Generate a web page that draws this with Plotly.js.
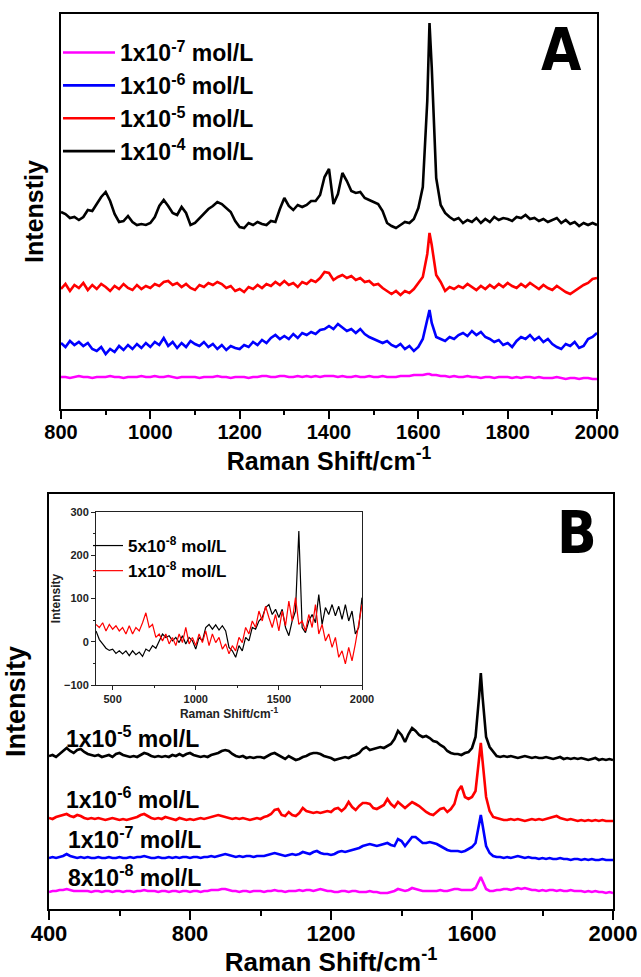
<!DOCTYPE html>
<html>
<head>
<meta charset="utf-8">
<script src="https://cdn.plot.ly/plotly-3.0.1.min.js"></script>
<style>html,body{margin:0;padding:0;background:#fff;}#chart{width:641px;height:977px;}</style>
</head>
<body>
<div id="chart"></div>
<script>
// ---------- Panel A data (Raman shift, cm-1) ----------
const shiftA = [
 800,810,820,830,840,850,860,870,880,890,
 900,910,920,930,940,950,960,970,980,990,
 1000,1010,1020,1030,1040,1050,1060,1070,1080,1090,
 1100,1110,1120,1130,1140,1150,1160,1170,1180,1190,
 1200,1210,1220,1230,1240,1250,1260,1270,1280,1290,
 1300,1310,1320,1330,1340,1350,1360,1370,1380,1390,
 1400,1410,1420,1430,1440,1450,1460,1470,1480,1490,
 1500,1510,1520,1530,1540,1550,1560,1570,1580,1590,
 1600,1610,1620,1625,1630,1640,1650,1660,1670,1680,1690,
 1700,1710,1720,1730,1740,1750,1760,1770,1780,1790,
 1800,1810,1820,1830,1840,1850,1860,1870,1880,1890,
 1900,1910,1920,1930,1940,1950,1960,1970,1980,1990,
 2000];
const A_1e4 = [
 197,195,191,192,189,192,199,198,205,212,
 217,208,195,187,188,193,187,184,185,184,
 186,192,203,209,203,196,194,202,196,184,
 186,191,196,200,203,207,205,201,197,188,
 182,181,186,184,187,185,184,188,187,200,
 211,203,199,204,202,204,208,208,214,232,
 240,205,215,236,228,218,216,217,211,209,
 207,205,198,186,183,181,184,187,186,190,
 201,222,308,386,342,231,204,196,192,189,191,
 186,189,187,191,186,190,187,192,189,191,
 190,188,192,191,194,190,191,188,190,187,
 189,191,186,189,185,187,183,186,184,186,
 184];
const A_1e5 = [
 120,125,118,124,121,126,119,124,120,125,
 122,118,123,120,125,121,119,124,120,123,
 121,125,123,127,128,124,126,122,125,121,
 119,124,122,126,124,127,125,121,123,118,
 120,117,122,120,124,121,125,123,127,124,
 128,124,126,122,127,125,129,127,131,137,
 136,129,132,134,131,133,129,131,127,128,
 124,125,121,118,115,118,114,118,116,120,
 126,132,155,176,164,134,127,118,122,120,123,
 121,125,122,119,123,120,124,121,125,122,
 126,123,121,125,122,126,123,120,124,121,
 119,123,120,117,115,118,121,124,126,130,
 131];
const A_1e6 = [
 66,62,68,64,67,63,66,60,58,62,
 55,60,57,63,59,64,60,65,61,66,
 62,67,64,71,63,67,61,66,62,68,
 65,63,67,62,65,60,64,59,63,61,
 60,64,62,67,64,69,66,71,74,70,
 73,70,75,71,76,74,77,75,79,80,
 83,80,85,81,78,80,76,80,75,72,
 70,68,66,68,64,62,65,60,63,58,
 62,70,88,99,86,72,70,68,72,70,74,
 76,73,78,74,77,72,70,67,69,64,
 66,62,68,72,70,74,69,72,67,70,
 65,62,60,65,63,67,61,63,70,72,
 76];
const A_1e7 = [
 32,32,31,32,33,32,32,31,32,32,
 32,33,32,32,31,32,32,32,33,32,
 32,33,32,32,33,32,31,32,32,32,
 32,31,32,32,32,33,32,32,31,32,
 32,32,31,32,32,33,33,32,32,33,
 33,32,32,33,32,33,32,33,32,33,
 33,33,32,33,32,32,33,32,32,33,
 32,32,33,32,32,32,33,33,33,34,
 34,34,35,35,34,34,33,33,32,33,32,
 32,33,32,32,31,32,32,31,32,32,
 32,31,32,31,32,32,31,32,31,31,
 31,32,31,30,31,31,30,31,31,30,
 30];
const namesA = ['1x10<sup>-7</sup> mol/L','1x10<sup>-6</sup> mol/L','1x10<sup>-5</sup> mol/L','1x10<sup>-4</sup> mol/L'];

// ---------- Panel B data ----------
const shiftB = [
 400,410,420,430,440,450,460,470,480,490,
 500,510,520,530,540,550,560,570,580,590,
 600,610,620,630,640,650,660,670,680,690,
 700,710,720,730,740,750,760,770,780,790,
 800,810,820,830,840,850,860,870,880,890,
 900,910,920,930,940,950,960,970,980,990,
 1000,1010,1020,1030,1040,1050,1060,1070,1080,1090,
 1100,1110,1120,1130,1140,1150,1160,1170,1180,1190,
 1200,1210,1220,1230,1240,1250,1260,1270,1280,1290,
 1300,1310,1320,1330,1340,1350,1360,1370,1380,1390,
 1400,1410,1420,1430,1440,1450,1460,1470,1480,1490,
 1500,1510,1520,1530,1540,1550,1560,1570,1580,1590,
 1600,1610,1620,1625,1630,1640,1650,1660,1670,1680,1690,
 1700,1710,1720,1730,1740,1750,1760,1770,1780,1790,
 1800,1810,1820,1830,1840,1850,1860,1870,1880,1890,
 1900,1910,1920,1930,1940,1950,1960,1970,1980,1990,
 2000];
const B_1e5 = [
 153,154,152,155,158,161,158,156,159,160,
 157,155,154,153,154,152,153,154,152,155,
 156,154,153,152,153,152,154,156,155,153,
 152,153,152,153,152,154,153,155,153,155,
 156,154,153,152,153,152,154,155,156,158,
 159,158,155,153,152,153,151,152,151,152,
 152,151,153,155,156,154,152,150,153,151,
 149,150,152,153,155,156,156,155,153,152,
 151,149,150,151,152,151,153,154,156,160,
 162,159,160,161,162,161,163,165,170,178,
 174,167,175,181,178,174,172,173,171,168,
 167,164,162,158,156,155,155,154,156,157,
 161,172,212,236,212,172,162,157,153,152,153,
 152,153,152,151,152,153,152,151,152,151,
 151,152,151,150,151,152,150,151,150,151,
 150,151,150,149,150,151,149,150,149,150,
 149];
const B_1e6 = [
 91,90,92,93,94,95,93,92,94,93,
 91,90,91,90,91,90,89,90,91,90,
 89,90,89,90,91,92,94,95,93,91,
 90,91,90,92,91,90,89,91,90,89,
 90,89,90,91,90,91,92,93,94,93,
 92,91,90,91,90,91,90,89,90,91,
 90,92,93,95,99,100,94,93,97,94,
 93,96,101,98,97,96,97,96,97,98,
 97,100,101,98,101,107,102,99,103,106,
 106,105,101,100,102,104,110,105,102,107,
 104,101,104,107,105,103,100,97,95,94,
 97,100,101,97,100,105,118,123,112,110,
 112,118,150,166,148,112,98,92,91,90,89,
 89,90,89,90,89,88,89,90,89,90,
 89,90,91,92,93,91,90,89,90,89,
 88,89,88,89,88,89,88,89,88,88,
 88];
const B_1e7 = [
 51,52,51,52,53,55,53,52,51,52,
 51,52,51,51,52,51,51,52,51,51,
 52,51,51,52,51,52,52,53,52,51,
 51,52,51,51,52,51,52,51,52,52,
 51,52,52,51,52,52,53,52,53,54,
 55,54,53,52,53,52,53,53,52,53,
 53,53,54,55,56,55,54,53,54,55,
 54,55,57,56,55,57,58,56,55,55,
 54,55,57,58,57,58,59,60,61,63,
 64,65,64,63,64,65,66,64,63,70,
 68,63,67,72,72,69,66,66,67,66,
 65,63,61,59,58,58,58,57,58,60,
 62,66,86,94,84,63,56,53,52,52,51,
 52,51,52,53,52,51,52,51,51,50,
 51,50,51,50,50,51,50,50,49,50,
 50,49,50,49,50,49,49,50,49,49,
 49];
const B_8e8 = [
 17,18,18,19,19,20,19,18,18,18,
 18,18,17,18,18,17,18,18,17,18,
 18,17,18,18,17,18,18,19,18,18,
 18,17,18,18,17,18,18,17,18,18,
 17,18,18,17,18,18,19,19,19,20,
 20,19,18,18,17,18,18,17,18,18,
 18,17,18,18,19,18,18,17,18,18,
 18,19,18,19,19,18,19,20,19,18,
 18,17,17,18,18,17,18,18,17,17,
 17,18,17,17,16,16,16,17,18,20,
 19,18,19,21,20,19,18,18,18,18,
 18,19,18,18,19,20,20,19,19,19,
 19,21,28,32,28,20,18,18,19,19,20,
 20,19,20,21,20,21,20,19,19,18,
 19,18,19,19,18,19,18,18,19,18,
 18,18,17,18,17,18,17,17,16,17,
 16];
const labelsB = ['1x10<sup>-5</sup> mol/L','1x10<sup>-6</sup> mol/L','1x10<sup>-7</sup> mol/L','8x10<sup>-8</sup> mol/L'];

// ---------- Inset data ----------
const shiftIn = [
 400,420,440,460,480,500,520,540,560,580,
 600,620,640,660,680,700,720,740,760,780,
 800,820,840,860,880,900,920,940,960,980,
 1000,1020,1040,1060,1080,1100,1120,1140,1160,1180,
 1200,1220,1240,1260,1280,1300,1320,1340,1360,1380,
 1400,1420,1440,1460,1480,1500,1520,1540,1560,1580,
 1600,1620,1640,1660,1680,1700,1720,1740,1760,1780,
 1800,1820,1840,1860,1880,1900,1920,1940,1960,1980,
 2000];
const In_5e8 = [
 25,5,-5,-15,-20,-17,-27,-21,-28,-21,
 -32,-21,-30,-24,-34,-17,-22,-9,-15,2,
 18,10,14,2,10,-2,14,-5,10,2,
 -17,10,2,33,40,29,39,27,37,25,
 -13,-21,-36,-9,-21,10,2,33,29,48,
 56,79,86,63,75,56,75,33,14,48,
 71,256,33,21,48,63,44,109,40,79,
 63,86,60,82,52,86,48,71,18,33,
 102];
const In_1e8 = [
 40,33,44,25,40,29,37,25,33,18,
 37,18,33,25,44,67,33,40,10,18,
 2,18,-5,10,-9,18,-2,33,-5,10,
 -9,18,-2,25,-9,18,-2,10,-17,-5,
 -28,-9,-21,10,-2,33,18,48,33,71,
 48,82,56,33,63,25,71,37,94,48,
 102,40,48,25,63,33,86,18,40,2,
 18,-13,10,-36,-21,-51,-13,-44,-5,40,
 86];
const namesIn = ['5x10<sup>-8</sup> mol/L','1x10<sup>-8</sup> mol/L'];

// ---------- figure ----------
const W = 641, H = 977;
const px = v => v / W;
const py = v => 1 - v / H;
const FONT = 'Liberation Sans, Arial, sans-serif';
const NARROW = 'Liberation Sans Narrow, DejaVu Sans Condensed, Arial Narrow, sans-serif';
const cMag = '#ff00ff', cBlue = '#0000ff', cRed = '#ff0000', cBlk = '#000000';

const lineA = (x, y, name, color) => ({x, y, name, type: 'scatter', mode: 'lines',
  line: {color, width: 2.6}, xaxis: 'x', yaxis: 'y', legend: 'legend'});
const lineB = (x, y, color) => ({x, y, type: 'scatter', mode: 'lines', showlegend: false,
  line: {color, width: 2.6}, xaxis: 'x2', yaxis: 'y2'});
const lineIn = (x, y, name, color) => ({x, y, name, type: 'scatter', mode: 'lines',
  line: {color, width: 1.2}, xaxis: 'x3', yaxis: 'y3', legend: 'legend2'});

const data = [
  lineA(shiftA, A_1e7, namesA[0], cMag),
  lineA(shiftA, A_1e6, namesA[1], cBlue),
  lineA(shiftA, A_1e5, namesA[2], cRed),
  lineA(shiftA, A_1e4, namesA[3], cBlk),
  lineB(shiftB, B_8e8, cMag),
  lineB(shiftB, B_1e7, cBlue),
  lineB(shiftB, B_1e6, cRed),
  lineB(shiftB, B_1e5, cBlk),
  lineIn(shiftIn, In_5e8, namesIn[0], cBlk),
  lineIn(shiftIn, In_1e8, namesIn[1], cRed)
];

const frameY = {showline: true, mirror: true, linewidth: 2, linecolor: '#000', ticks: '',
  showticklabels: false, showgrid: false, zeroline: false};

const layout = {
  width: W, height: H,
  margin: {l: 0, r: 0, t: 0, b: 0},
  paper_bgcolor: '#fff', plot_bgcolor: 'rgba(0,0,0,0)',
  showlegend: true,
  font: {family: FONT, color: '#000'},
  xaxis: {
    domain: [px(61), px(597)], anchor: 'y', range: [800, 2000],
    tick0: 800, dtick: 200, ticks: 'outside', ticklen: 8, tickwidth: 2, tickcolor: '#000',
    ticklabelstandoff: -4,
    minor: {dtick: 100, ticks: 'outside', ticklen: 4, tickwidth: 2, tickcolor: '#000'},
    showline: true, mirror: true, linewidth: 2, linecolor: '#000',
    showgrid: false, zeroline: false,
    tickfont: {family: FONT, size: 20, weight: 'bold', color: '#000'},
    title: {text: 'Raman Shift/cm<sup>-1</sup>', font: {family: FONT, size: 25, weight: 'bold', color: '#000'}, standoff: 4}
  },
  yaxis: Object.assign({}, frameY, {
    domain: [py(409), py(14)], anchor: 'x', range: [0, 395],
    title: {text: 'Intenstiy', font: {family: FONT, size: 25, weight: 'bold', color: '#000'}, standoff: 8}
  }),
  xaxis2: {
    domain: [px(49), px(613)], anchor: 'y2', range: [400, 2000],
    tick0: 400, dtick: 400, ticks: 'outside', ticklen: 9, tickwidth: 2, tickcolor: '#000',
    ticklabelstandoff: -5,
    minor: {dtick: 200, ticks: 'outside', ticklen: 5, tickwidth: 2, tickcolor: '#000'},
    showline: true, mirror: true, linewidth: 2, linecolor: '#000',
    showgrid: false, zeroline: false,
    tickfont: {family: FONT, size: 22, weight: 'bold', color: '#000'},
    title: {text: 'Raman Shift/cm<sup>-1</sup>', font: {family: FONT, size: 26, weight: 'bold', color: '#000'}, standoff: 2}
  },
  yaxis2: Object.assign({}, frameY, {
    domain: [py(909), py(494)], anchor: 'x2', range: [0, 415],
    title: {text: 'Intensity', font: {family: FONT, size: 27, weight: 'bold', color: '#000'}, standoff: 14}
  }),
  xaxis3: {
    domain: [px(96), px(362)], anchor: 'y3', range: [400, 2000],
    tick0: 500, dtick: 500, ticks: 'outside', ticklen: 4, tickwidth: 1, tickcolor: '#222',
    minor: {tick0: 250, dtick: 250, ticks: 'outside', ticklen: 2, tickwidth: 1, tickcolor: '#222'},
    showline: true, mirror: true, linewidth: 1, linecolor: '#222',
    showgrid: false, zeroline: false,
    tickfont: {family: FONT, size: 11, weight: 'bold', color: '#222'},
    title: {text: 'Raman Shift/cm<sup>-1</sup>', font: {family: FONT, size: 12, weight: 'bold', color: '#222'}, standoff: 2}
  },
  yaxis3: {
    domain: [py(685), py(512)], anchor: 'x3', range: [-100, 300],
    tick0: 0, dtick: 100, ticks: 'outside', ticklen: 4, tickwidth: 1, tickcolor: '#222',
    minor: {dtick: 50, ticks: 'outside', ticklen: 2, tickwidth: 1, tickcolor: '#222'},
    showline: true, mirror: true, linewidth: 1, linecolor: '#222',
    showgrid: false, zeroline: false,
    tickfont: {family: FONT, size: 11, weight: 'bold', color: '#222'},
    title: {text: 'Intensity', font: {family: FONT, size: 12, weight: 'bold', color: '#222'}, standoff: 0}
  },
  legend: {
    x: px(58), y: py(31), xanchor: 'left', yanchor: 'top',
    bgcolor: 'rgba(0,0,0,0)', borderwidth: 0, traceorder: 'normal',
    itemwidth: 52, tracegroupgap: 0,
    font: {family: FONT, size: 23, weight: 'bold', color: '#000'}
  },
  legend2: {
    x: px(88), y: py(528), xanchor: 'left', yanchor: 'top',
    bgcolor: 'rgba(0,0,0,0)', borderwidth: 0, traceorder: 'normal',
    itemwidth: 30,
    font: {family: FONT, size: 17, weight: 'bold', color: '#000'}
  },
  annotations: [
    {xref: 'paper', yref: 'paper', x: px(561), y: py(50), text: 'A', showarrow: false,
     xanchor: 'center', yanchor: 'middle', font: {family: NARROW, size: 58, weight: 'bold', color: '#000'}},
    {xref: 'paper', yref: 'paper', x: px(577), y: py(533), text: 'B', showarrow: false,
     xanchor: 'center', yanchor: 'middle', font: {family: NARROW, size: 58, weight: 'bold', color: '#000'}},
    {xref: 'paper', yref: 'paper', x: px(64), y: py(737), text: labelsB[0], showarrow: false,
     xanchor: 'left', yanchor: 'middle', font: {family: FONT, size: 23, weight: 'bold', color: '#000'}},
    {xref: 'paper', yref: 'paper', x: px(64), y: py(798), text: labelsB[1], showarrow: false,
     xanchor: 'left', yanchor: 'middle', font: {family: FONT, size: 23, weight: 'bold', color: '#000'}},
    {xref: 'paper', yref: 'paper', x: px(66), y: py(838), text: labelsB[2], showarrow: false,
     xanchor: 'left', yanchor: 'middle', font: {family: FONT, size: 23, weight: 'bold', color: '#000'}},
    {xref: 'paper', yref: 'paper', x: px(66), y: py(876), text: labelsB[3], showarrow: false,
     xanchor: 'left', yanchor: 'middle', font: {family: FONT, size: 23, weight: 'bold', color: '#000'}}
  ]
};

Plotly.newPlot('chart', data, layout, {displayModeBar: false, staticPlot: true});
</script>
</body>
</html>
